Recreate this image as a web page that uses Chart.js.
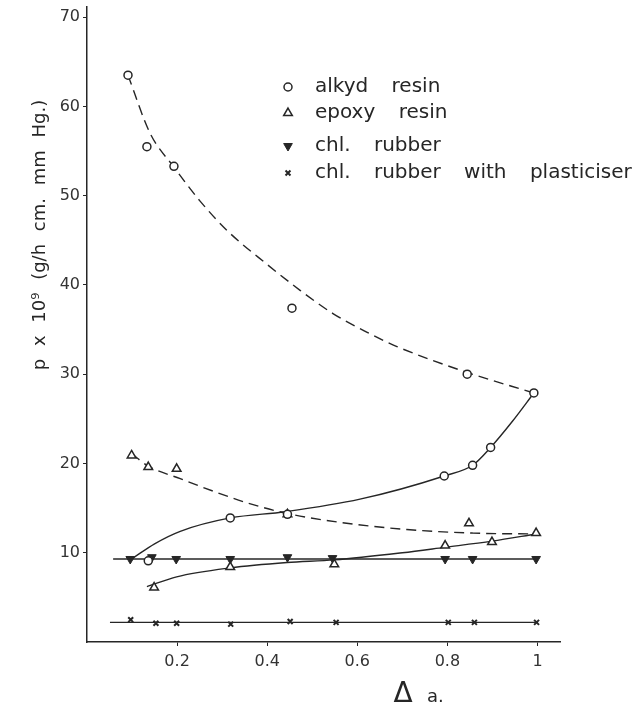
<!DOCTYPE html>
<html>
<head>
<meta charset="utf-8">
<script src="https://cdn.jsdelivr.net/npm/chart.js@4.4.1/dist/chart.umd.min.js"></script>
<style>
    html, body { margin: 0; background: #fff; }
</style>
</head>
<body>
<canvas id="myChart" width="640" height="708"></canvas>
<script>
    // Variables
    const xTicks = [0.2, 0.4, 0.6, 0.8, 1];
    const yTicks = [10, 20, 30, 40, 50, 60, 70];

    const seriesNames = ["alkyd resin", "epoxy resin", "chl. rubber", "chl. rubber with plasticiser"];

    // measured points
    const alkydX = [0.091, 0.133, 0.193, 0.455, 0.844, 0.992, 0.136, 0.318, 0.445, 0.793, 0.856, 0.896];
    const alkydY = [63.5, 55.5, 53.3, 37.4, 30.0, 27.9, 9.1, 13.9, 14.3, 18.6, 19.8, 21.8];

    const epoxyX = [0.099, 0.136, 0.199, 0.445, 0.848, 0.997, 0.149, 0.318, 0.549, 0.795, 0.899];
    const epoxyY = [20.9, 19.6, 19.4, 14.3, 13.3, 12.2, 6.1, 8.4, 8.7, 10.8, 11.2];

    const rubberX = [0.096, 0.144, 0.198, 0.318, 0.445, 0.545, 0.795, 0.856, 0.997];
    const rubberY = [9.3, 9.5, 9.3, 9.3, 9.5, 9.4, 9.3, 9.3, 9.3];

    const plastX = [0.097, 0.153, 0.199, 0.319, 0.451, 0.553, 0.802, 0.86, 0.998];
    const plastY = [2.5, 2.1, 2.1, 2.0, 2.3, 2.2, 2.2, 2.2, 2.2];

    // hand drawn curves
    const alkydFallX = [0.091, 0.14, 0.193, 0.251, 0.311, 0.4, 0.473, 0.546, 0.622, 0.688, 0.844, 0.992];
    const alkydFallY = [63.5, 57.0, 53.2, 49.4, 46.1, 42.3, 39.4, 36.8, 34.7, 33.1, 30.2, 27.9];

    const alkydRiseX = [0.102, 0.15, 0.207, 0.318, 0.44, 0.606, 0.793, 0.856, 0.896, 0.944, 0.992];
    const alkydRiseY = [9.4, 11.0, 12.4, 13.9, 14.6, 16.0, 18.6, 19.8, 21.8, 24.7, 27.9];

    const epoxyFallX = [0.099, 0.136, 0.207, 0.28, 0.355, 0.444, 0.562, 0.71, 0.857, 0.997];
    const epoxyFallY = [21.1, 19.7, 18.3, 16.9, 15.6, 14.4, 13.4, 12.6, 12.2, 12.1];

    const epoxyRiseX = [0.133, 0.199, 0.318, 0.444, 0.549, 0.7, 0.793, 0.899, 0.997];
    const epoxyRiseY = [6.2, 7.3, 8.3, 8.9, 9.2, 10.0, 10.6, 11.3, 12.1];

    const rubberLineX = [0.058, 0.997];
    const rubberLineY = [9.3, 9.3];

    const plastLineX = [0.051, 0.998];
    const plastLineY = [2.2, 2.2];

    const ink = "#262626";
    const fontFamily = "'DejaVu Sans', 'Liberation Sans', sans-serif";

    //Methods
    let zip = (xs, ys) => xs.map((x, i) => ({ x: x, y: ys[i] }));

    let curve = (xs, ys, dashed) => ({
        data: zip(xs, ys),
        showLine: true,
        pointRadius: 0,
        borderColor: ink,
        borderWidth: 1.4,
        borderDash: dashed ? [10, 6] : [],
        cubicInterpolationMode: "monotone",
        fill: false,
        order: 1
    });

    let markers = (xs, ys, style) => Object.assign({
        data: zip(xs, ys),
        showLine: false,
        borderColor: ink,
        pointBorderColor: ink,
        order: 0
    }, style);

    const markerStyles = [
        { pointStyle: "circle", pointRadius: 4, pointBackgroundColor: "#fff", pointBorderWidth: 1.5, pointRotation: 0 },
        { pointStyle: "triangle", pointRadius: 5, pointBackgroundColor: "#fff", pointBorderWidth: 1.5, pointRotation: 0 },
        { pointStyle: "triangle", pointRadius: 5, pointBackgroundColor: ink, pointBorderWidth: 1, pointRotation: 180 },
        { pointStyle: "crossRot", pointRadius: 3.5, pointBackgroundColor: ink, pointBorderWidth: 2, pointRotation: 0 }
    ];

    // texts: axis titles and the legend inside the plot
    const textPlugin = {
        id: "texts",
        afterDraw: (chart) => {
            let ctx = chart.ctx;
            ctx.save();
            ctx.fillStyle = ink;

            // y title
            ctx.save();
            ctx.translate(40, 235);
            ctx.rotate(-Math.PI / 2);
            ctx.font = "18px " + fontFamily;
            ctx.textAlign = "center";
            ctx.textBaseline = "middle";
            ctx.wordSpacing = "7px";
            ctx.fillText("p x 10\u2079 (g/h cm. mm Hg.)", 0, 0);
            ctx.restore();

            // x title
            ctx.textBaseline = "alphabetic";
            ctx.textAlign = "center";
            ctx.font = "28px " + fontFamily;
            ctx.fillText("\u0394", 403, 702);
            ctx.textAlign = "left";
            ctx.font = "18px " + fontFamily;
            ctx.fillText("a.", 427, 702);

            // legend
            const rows = [87, 113, 146, 173];
            ctx.font = "20px " + fontFamily;
            ctx.wordSpacing = "17px";
            seriesNames.forEach((name, i) => {
                let st = markerStyles[i];
                ctx.fillStyle = st.pointBackgroundColor;
                ctx.strokeStyle = ink;
                ctx.lineWidth = st.pointBorderWidth;
                Chart.helpers.drawPoint(ctx, {
                    pointStyle: st.pointStyle,
                    radius: st.pointRadius,
                    rotation: st.pointRotation,
                    borderWidth: st.pointBorderWidth
                }, 288, rows[i]);
                ctx.fillStyle = ink;
                ctx.fillText(name, 315, rows[i] + 5);
            });
            ctx.restore();
        }
    };

    let noPad = (s) => {
        s.paddingTop = 0;
        s.paddingBottom = 0;
        s.paddingLeft = 0;
        s.paddingRight = 0;
    };

    let init = () => {
        let ctx = document.getElementById("myChart").getContext("2d");

        new Chart(ctx, {
            type: "scatter",
            data: {
                datasets: [
                    markers(alkydX, alkydY, markerStyles[0]),
                    markers(epoxyX, epoxyY, markerStyles[1]),
                    markers(rubberX, rubberY, markerStyles[2]),
                    markers(plastX, plastY, markerStyles[3]),
                    curve(alkydFallX, alkydFallY, true),
                    curve(alkydRiseX, alkydRiseY, false),
                    curve(epoxyFallX, epoxyFallY, true),
                    curve(epoxyRiseX, epoxyRiseY, false),
                    curve(rubberLineX, rubberLineY, false),
                    curve(plastLineX, plastLineY, false)
                ]
            },
            options: {
                responsive: false,
                animation: false,
                layout: { padding: { top: 6, right: 80, left: 0, bottom: 0 } },
                plugins: {
                    legend: { display: false },
                    tooltip: { enabled: false }
                },
                scales: {
                    x: {
                        type: "linear",
                        min: 0,
                        max: 1.05,
                        afterBuildTicks: (s) => { s.ticks = xTicks.map(v => ({ value: v })); },
                        afterFit: (s) => { s.height = 66; noPad(s); },
                        grid: { drawOnChartArea: false, drawTicks: true, tickLength: 4, color: ink },
                        border: { display: true, color: ink, width: 1.5 },
                        ticks: {
                            autoSkip: false,
                            maxRotation: 0,
                            padding: 6,
                            color: "#333",
                            font: { family: fontFamily, size: 16 },
                            callback: (v) => String(v)
                        }
                    },
                    y: {
                        type: "linear",
                        min: 0,
                        max: 71.2,
                        afterBuildTicks: (s) => { s.ticks = yTicks.map(v => ({ value: v })); },
                        afterFit: (s) => { s.width = 87; noPad(s); },
                        grid: { drawOnChartArea: false, drawTicks: true, tickLength: 4, color: ink },
                        border: { display: true, color: ink, width: 1.5 },
                        ticks: {
                            padding: 3,
                            color: "#333",
                            font: { family: fontFamily, size: 16 },
                            callback: (v) => String(v)
                        }
                    }
                }
            },
            plugins: [textPlugin]
        });
    };

    init();
</script>
</body>
</html>
